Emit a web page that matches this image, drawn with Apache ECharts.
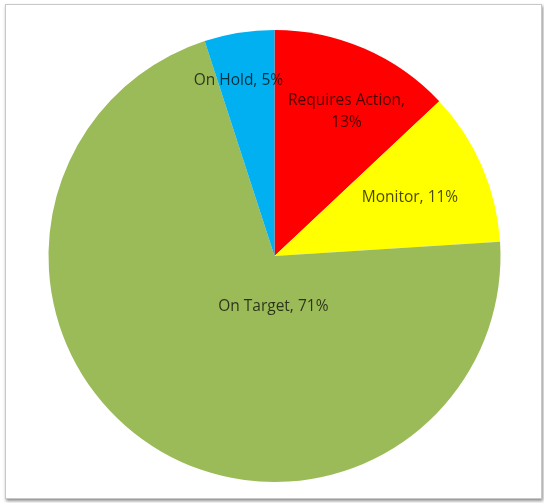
<!DOCTYPE html>
<html>
<head>
<meta charset="utf-8">
<script src="https://cdn.jsdelivr.net/npm/echarts@6/dist/echarts.min.js"></script>
<style>
  html, body { margin: 0; padding: 0; background: #fff; }
  #frame { position: absolute; left: 5px; top: 4px; width: 535px; height: 493px;
           border: 1px solid #c8c8c8; box-shadow: 1px 2px 3px rgba(0,0,0,0.45); background: #fff; }
  #chart { position: absolute; left: 0; top: 0; width: 544px; height: 503px; }
</style>
</head>
<body>
<div id="frame"></div>
<div id="chart"></div>
<script>
const categories = ['Requires Action', 'Monitor', 'On Target', 'On Hold'];
const values = [13, 11, 71, 5];
const colors = ['#FF0000', '#FFFF00', '#9BBB59', '#00B0F0'];

const labelShift = [[26, -38], [29, -12], [64, -45], [-18, -61]];

const chart = echarts.init(document.getElementById('chart'), null, { renderer: 'canvas' });
chart.setOption({
  backgroundColor: 'transparent',
  animation: false,
  series: [{
    type: 'pie',
    center: [274.5, 256],
    radius: 226,
    startAngle: 90,
    clockwise: true,
    avoidLabelOverlap: false,
    label: {
      show: true,
      position: 'inside',
      formatter: '{b}, {c}%',
      fontFamily: 'Open Sans',
      fontSize: 15.5,
      color: 'rgba(0,0,0,0.72)',
      lineHeight: 22
    },
    labelLine: { show: false },
    labelLayout: function (p) {
      const s = labelShift[p.dataIndex];
      return { dx: s[0], dy: s[1] };
    },
    emphasis: { disabled: true },
    data: categories.map((c, i) => ({
      name: c,
      value: values[i],
      itemStyle: { color: colors[i] },
      label: i === 0 ? { formatter: '{b},\n{c}%' } : undefined
    }))
  }]
});
</script>
</body>
</html>
